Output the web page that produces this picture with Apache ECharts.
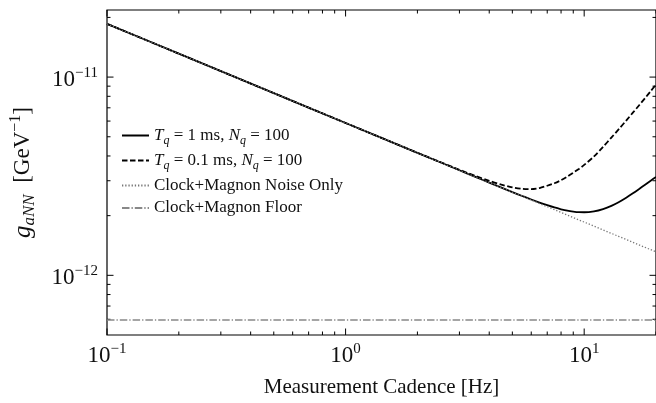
<!DOCTYPE html>
<html><head><meta charset="utf-8">
<script src="https://cdn.jsdelivr.net/npm/echarts@6/dist/echarts.min.js"></script>
<style>html,body{margin:0;padding:0;background:#fff}#c{width:656px;height:403px}</style>
</head><body><div id="c"></div>
<script>
// ---- data ----
const freq = [0.1,0.2,0.5,1,2,3,3.5,4,4.5,5,5.5,6,6.5,7,7.5,8,8.5,9,9.5,10,11,12,13,14,15,16,17,18,19,20];
const solid = [1.856e-11,1.313e-11,8.30e-12,5.87e-12,4.15e-12,3.389e-12,3.139e-12,2.936e-12,2.770e-12,2.630e-12,2.513e-12,2.412e-12,2.328e-12,2.258e-12,2.199e-12,2.154e-12,2.119e-12,2.097e-12,2.083e-12,2.081e-12,2.104e-12,2.160e-12,2.241e-12,2.345e-12,2.464e-12,2.591e-12,2.727e-12,2.865e-12,3.003e-12,3.136e-12];
const dashed = [1.856e-11,1.313e-11,8.30e-12,5.87e-12,4.153e-12,3.407e-12,3.172e-12,2.995e-12,2.866e-12,2.779e-12,2.731e-12,2.722e-12,2.756e-12,2.831e-12,2.915e-12,3.019e-12,3.146e-12,3.293e-12,3.441e-12,3.605e-12,3.982e-12,4.447e-12,4.954e-12,5.478e-12,6.034e-12,6.613e-12,7.212e-12,7.835e-12,8.490e-12,9.178e-12];
const noise = [1.856e-11,1.313e-11,8.30e-12,5.87e-12,4.15e-12,3.389e-12,3.138e-12,2.935e-12,2.767e-12,2.625e-12,2.503e-12,2.396e-12,2.302e-12,2.219e-12,2.143e-12,2.075e-12,2.013e-12,1.957e-12,1.904e-12,1.856e-12,1.770e-12,1.695e-12,1.628e-12,1.569e-12,1.516e-12,1.468e-12,1.424e-12,1.384e-12,1.347e-12,1.313e-12];
const floorFreq = [0.1, 20];
const floorVal = [5.95e-13, 5.95e-13];
const xMajor = [0.1, 1, 10];
const xMinor = [0.2,0.3,0.4,0.5,0.6,0.7,0.8,0.9,2,3,4,5,6,7,8,9,20];
const yMajor = [1e-12, 1e-11];
const yMinor = [6e-13,7e-13,8e-13,9e-13,2e-12,3e-12,4e-12,5e-12,6e-12,7e-12,8e-12,9e-12,2e-11];
const names = ['T1', 'T01', 'Clock+Magnon Noise Only', 'Clock+Magnon Floor'];
const legendRich = {
  'T1': '{i|T}{sub|q}{r| = 1 ms, }{i|N}{sub|q}{r| = 100}',
  'T01': '{i|T}{sub|q}{r| = 0.1 ms, }{i|N}{sub|q}{r| = 100}',
  'Clock+Magnon Noise Only': '{r|Clock+Magnon Noise Only}',
  'Clock+Magnon Floor': '{r|Clock+Magnon Floor}'
};

const FF = '"Liberation Serif", "DejaVu Serif", serif';
const TXT = '#111';
const chart = echarts.init(document.getElementById('c'), null, {renderer: 'canvas'});
const pairs = (xs, ys) => xs.map((x, i) => [x, ys[i]]);
const powLabel = v => {
  const e = Math.round(Math.log10(v));
  if (Math.abs(v / Math.pow(10, e) - 1) > 1e-6) return '';
  return '{b|10}{s|' + String(e).replace('-', '\u2212') + '}';
};
const tickRich = {
  b: {fontFamily: FF, fontSize: 23, color: TXT, lineHeight: 28},
  s: {fontFamily: FF, fontSize: 15, color: TXT, verticalAlign: 'top', lineHeight: 15}
};
const lRich = {
  r: {fontFamily: FF, fontSize: 17, color: TXT, lineHeight: 22},
  i: {fontFamily: FF, fontSize: 17, fontStyle: 'italic', color: TXT, lineHeight: 22},
  sub: {fontFamily: FF, fontSize: 12, fontStyle: 'italic', color: TXT, verticalAlign: 'bottom', lineHeight: 12}
};

const GRID = {left: 107, top: 10, right: -2, bottom: 65};
chart.setOption({
  animation: false,
  backgroundColor: '#fff',
  grid: Object.assign({show: true, borderColor: '#000', borderWidth: 1.2, backgroundColor: 'transparent'}, GRID),
  legend: {
    data: names, orient: 'vertical', left: 121, top: 127, padding: 0,
    itemWidth: 27, itemHeight: 14, itemGap: 5.5,
    itemStyle: {opacity: 0},
    formatter: n => legendRich[n],
    textStyle: {rich: lRich, padding: [0, 0, 0, 0]}
  },
  xAxis: {
    type: 'log', logBase: 10, min: 0.1, max: 20,
    name: 'Measurement Cadence [Hz]', nameLocation: 'middle', nameGap: 42,
    nameTextStyle: {fontFamily: FF, fontSize: 21, color: TXT},
    axisLine: {show: false}, axisTick: {show: false}, splitLine: {show: false},
    axisLabel: {margin: 7, formatter: powLabel, rich: tickRich, showMaxLabel: false}
  },
  yAxis: {
    type: 'log', logBase: 10, min: 5e-13, max: 2.18e-11,
    name: '{gi|g}{gs|aNN}{gr|  [GeV}{gp|\u22121}{gr|]}', nameLocation: 'middle', nameGap: 69, nameRotate: 90,
    nameTextStyle: {rich: {
      gi: {fontFamily: FF, fontSize: 25, fontStyle: 'italic', color: TXT, lineHeight: 30},
      gs: {fontFamily: FF, fontSize: 17, fontStyle: 'italic', color: TXT, verticalAlign: 'bottom', lineHeight: 15},
      gr: {fontFamily: FF, fontSize: 23, color: TXT, lineHeight: 30},
      gp: {fontFamily: FF, fontSize: 16, color: TXT, verticalAlign: 'top', lineHeight: 15}
    }},
    axisLine: {show: false}, axisTick: {show: false}, splitLine: {show: false},
    axisLabel: {margin: 9, padding: [5, 0, 0, 0], formatter: powLabel, rich: tickRich, showMaxLabel: false, showMinLabel: false}
  },
  series: [
    {name: names[0], type: 'line', data: pairs(freq, solid), symbol: 'none', smooth: 0.3, z: 3,
     lineStyle: {color: '#000', width: 1.8, type: 'solid'}, itemStyle: {color: '#000'}},
    {name: names[1], type: 'line', data: pairs(freq, dashed), symbol: 'none', smooth: 0.3, z: 3,
     lineStyle: {color: '#000', width: 1.8, type: [5.5, 2.5]}, itemStyle: {color: '#000'}},
    {name: names[2], type: 'line', data: pairs(freq, noise), symbol: 'none', z: 4,
     lineStyle: {color: '#777', width: 1.3, type: [1.3, 1.9]}, itemStyle: {color: '#777'}},
    {name: names[3], type: 'line', data: pairs(floorFreq, floorVal), symbol: 'none', z: 2,
     lineStyle: {color: '#888', width: 1.3, type: [7.5, 2, 1.3, 2]}, itemStyle: {color: '#888'}}
  ]
});

// ticks on all four sides (inward), placed with the chart's own scales
function drawTicks() {
  const g = [];
  const rect = chart.getModel().getComponent('grid', 0).coordinateSystem.getRect();
  const x0 = rect.x, x1 = rect.x + rect.width, y0 = rect.y, y1 = rect.y + rect.height;
  const st = {stroke: '#000', lineWidth: 1};
  const addX = (v, len) => {
    const p = chart.convertToPixel({gridIndex: 0}, [v, 1e-12])[0];
    g.push({type: 'line', shape: {x1: p, y1: y1, x2: p, y2: y1 - len}, style: st, silent: true});
    g.push({type: 'line', shape: {x1: p, y1: y0, x2: p, y2: y0 + len}, style: st, silent: true});
  };
  const addY = (v, len) => {
    const p = chart.convertToPixel({gridIndex: 0}, [1, v])[1];
    g.push({type: 'line', shape: {x1: x0, y1: p, x2: x0 + len, y2: p}, style: st, silent: true});
    g.push({type: 'line', shape: {x1: x1, y1: p, x2: x1 - len, y2: p}, style: st, silent: true});
  };
  xMajor.forEach(v => addX(v, 6.5));
  xMinor.forEach(v => addX(v, 3.5));
  yMajor.forEach(v => addY(v, 6.5));
  yMinor.forEach(v => addY(v, 3.5));
  chart.setOption({graphic: {elements: g}});
}
drawTicks();
</script></body></html>
